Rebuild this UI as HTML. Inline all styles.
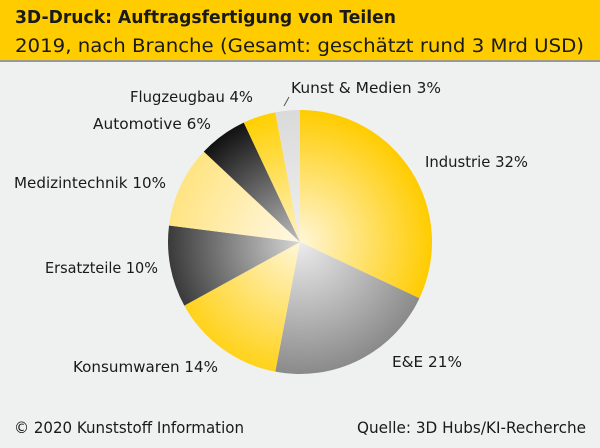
<!DOCTYPE html>
<html><head><meta charset="utf-8"><style>
body{margin:0;width:600px;height:443px;background:#eff0f0;overflow:hidden}
</style></head><body>
<svg id="s" width="600" height="443" xmlns="http://www.w3.org/2000/svg" font-family="DejaVu Sans, Liberation Sans, sans-serif">
<rect width="600" height="60" fill="#ffcc00"/>
<rect y="60" width="600" height="2" fill="#9a9a90"/>
<text x="15" y="23" font-size="18" font-weight="bold" fill="#1a1a1a" textLength="381" lengthAdjust="spacingAndGlyphs">3D-Druck: Auftragsfertigung von Teilen</text>
<text x="15" y="52" font-size="18.5" fill="#1a1a1a" textLength="569" lengthAdjust="spacingAndGlyphs">2019, nach Branche (Gesamt: geschätzt rund 3 Mrd USD)</text>
<g id="pie"></g>
<g font-size="15" fill="#1a1a1a" lengthAdjust="spacingAndGlyphs">
<text x="425" y="167" textLength="103" lengthAdjust="spacingAndGlyphs">Industrie 32%</text>
<text x="392" y="367" textLength="70" lengthAdjust="spacingAndGlyphs">E&amp;E 21%</text>
<text x="73" y="372" textLength="145" lengthAdjust="spacingAndGlyphs">Konsumwaren 14%</text>
<text x="45" y="273" textLength="113" lengthAdjust="spacingAndGlyphs">Ersatzteile 10%</text>
<text x="14" y="188" textLength="152" lengthAdjust="spacingAndGlyphs">Medizintechnik 10%</text>
<text x="93" y="129" textLength="118" lengthAdjust="spacingAndGlyphs">Automotive 6%</text>
<text x="130" y="102" textLength="123" lengthAdjust="spacingAndGlyphs">Flugzeugbau 4%</text>
<text x="291" y="93" textLength="150" lengthAdjust="spacingAndGlyphs">Kunst &amp; Medien 3%</text>
<line x1="289" y1="97" x2="284" y2="106" stroke="#555" stroke-width="1"/>
<text x="14" y="433" font-size="16" textLength="230" lengthAdjust="spacingAndGlyphs">© 2020 Kunststoff Information</text>
<text x="357" y="433" font-size="16" textLength="229" lengthAdjust="spacingAndGlyphs">Quelle: 3D Hubs/KI-Recherche</text>
</g>
</svg>
<script>
var cx=300,cy=242,r=132;
var d=[[32,'#ffcc00','#fff6d8'],[21,'#8a8a8a','#ececec'],[14,'#ffd21a','#fff6d8'],[10,'#3a3a3a','#d6d6d6'],[10,'#ffe482','#fff8e6'],[6,'#111','#bdbdbd'],[4,'#ffd000','#fff2c4'],[3,'#dadada','#f0f0f0']];
var ns='http://www.w3.org/2000/svg',g=document.getElementById('pie'),svg=document.getElementById('s');
var defs=document.createElementNS(ns,'defs');svg.insertBefore(defs,svg.firstChild);
var c=0;
d.forEach(function(s,i){
 var a0=c/100*2*Math.PI;c+=s[0];var a1=c/100*2*Math.PI;
 var rg=document.createElementNS(ns,'radialGradient');
 rg.setAttribute('id','g'+i);rg.setAttribute('gradientUnits','userSpaceOnUse');
 rg.setAttribute('cx',cx);rg.setAttribute('cy',cy);rg.setAttribute('r',r);
 rg.innerHTML='<stop offset="0" stop-color="'+s[2]+'"/><stop offset="1" stop-color="'+s[1]+'"/>';
 defs.appendChild(rg);
 var x0=cx+r*Math.sin(a0),y0=cy-r*Math.cos(a0),x1=cx+r*Math.sin(a1),y1=cy-r*Math.cos(a1);
 var p=document.createElementNS(ns,'path');
 p.setAttribute('d','M'+cx+','+cy+'L'+x0+','+y0+'A'+r+','+r+' 0 '+((a1-a0)>Math.PI?1:0)+' 1 '+x1+','+y1+'Z');
 p.setAttribute('fill','url(#g'+i+')');
 g.appendChild(p);
});
</script>
</body></html>
